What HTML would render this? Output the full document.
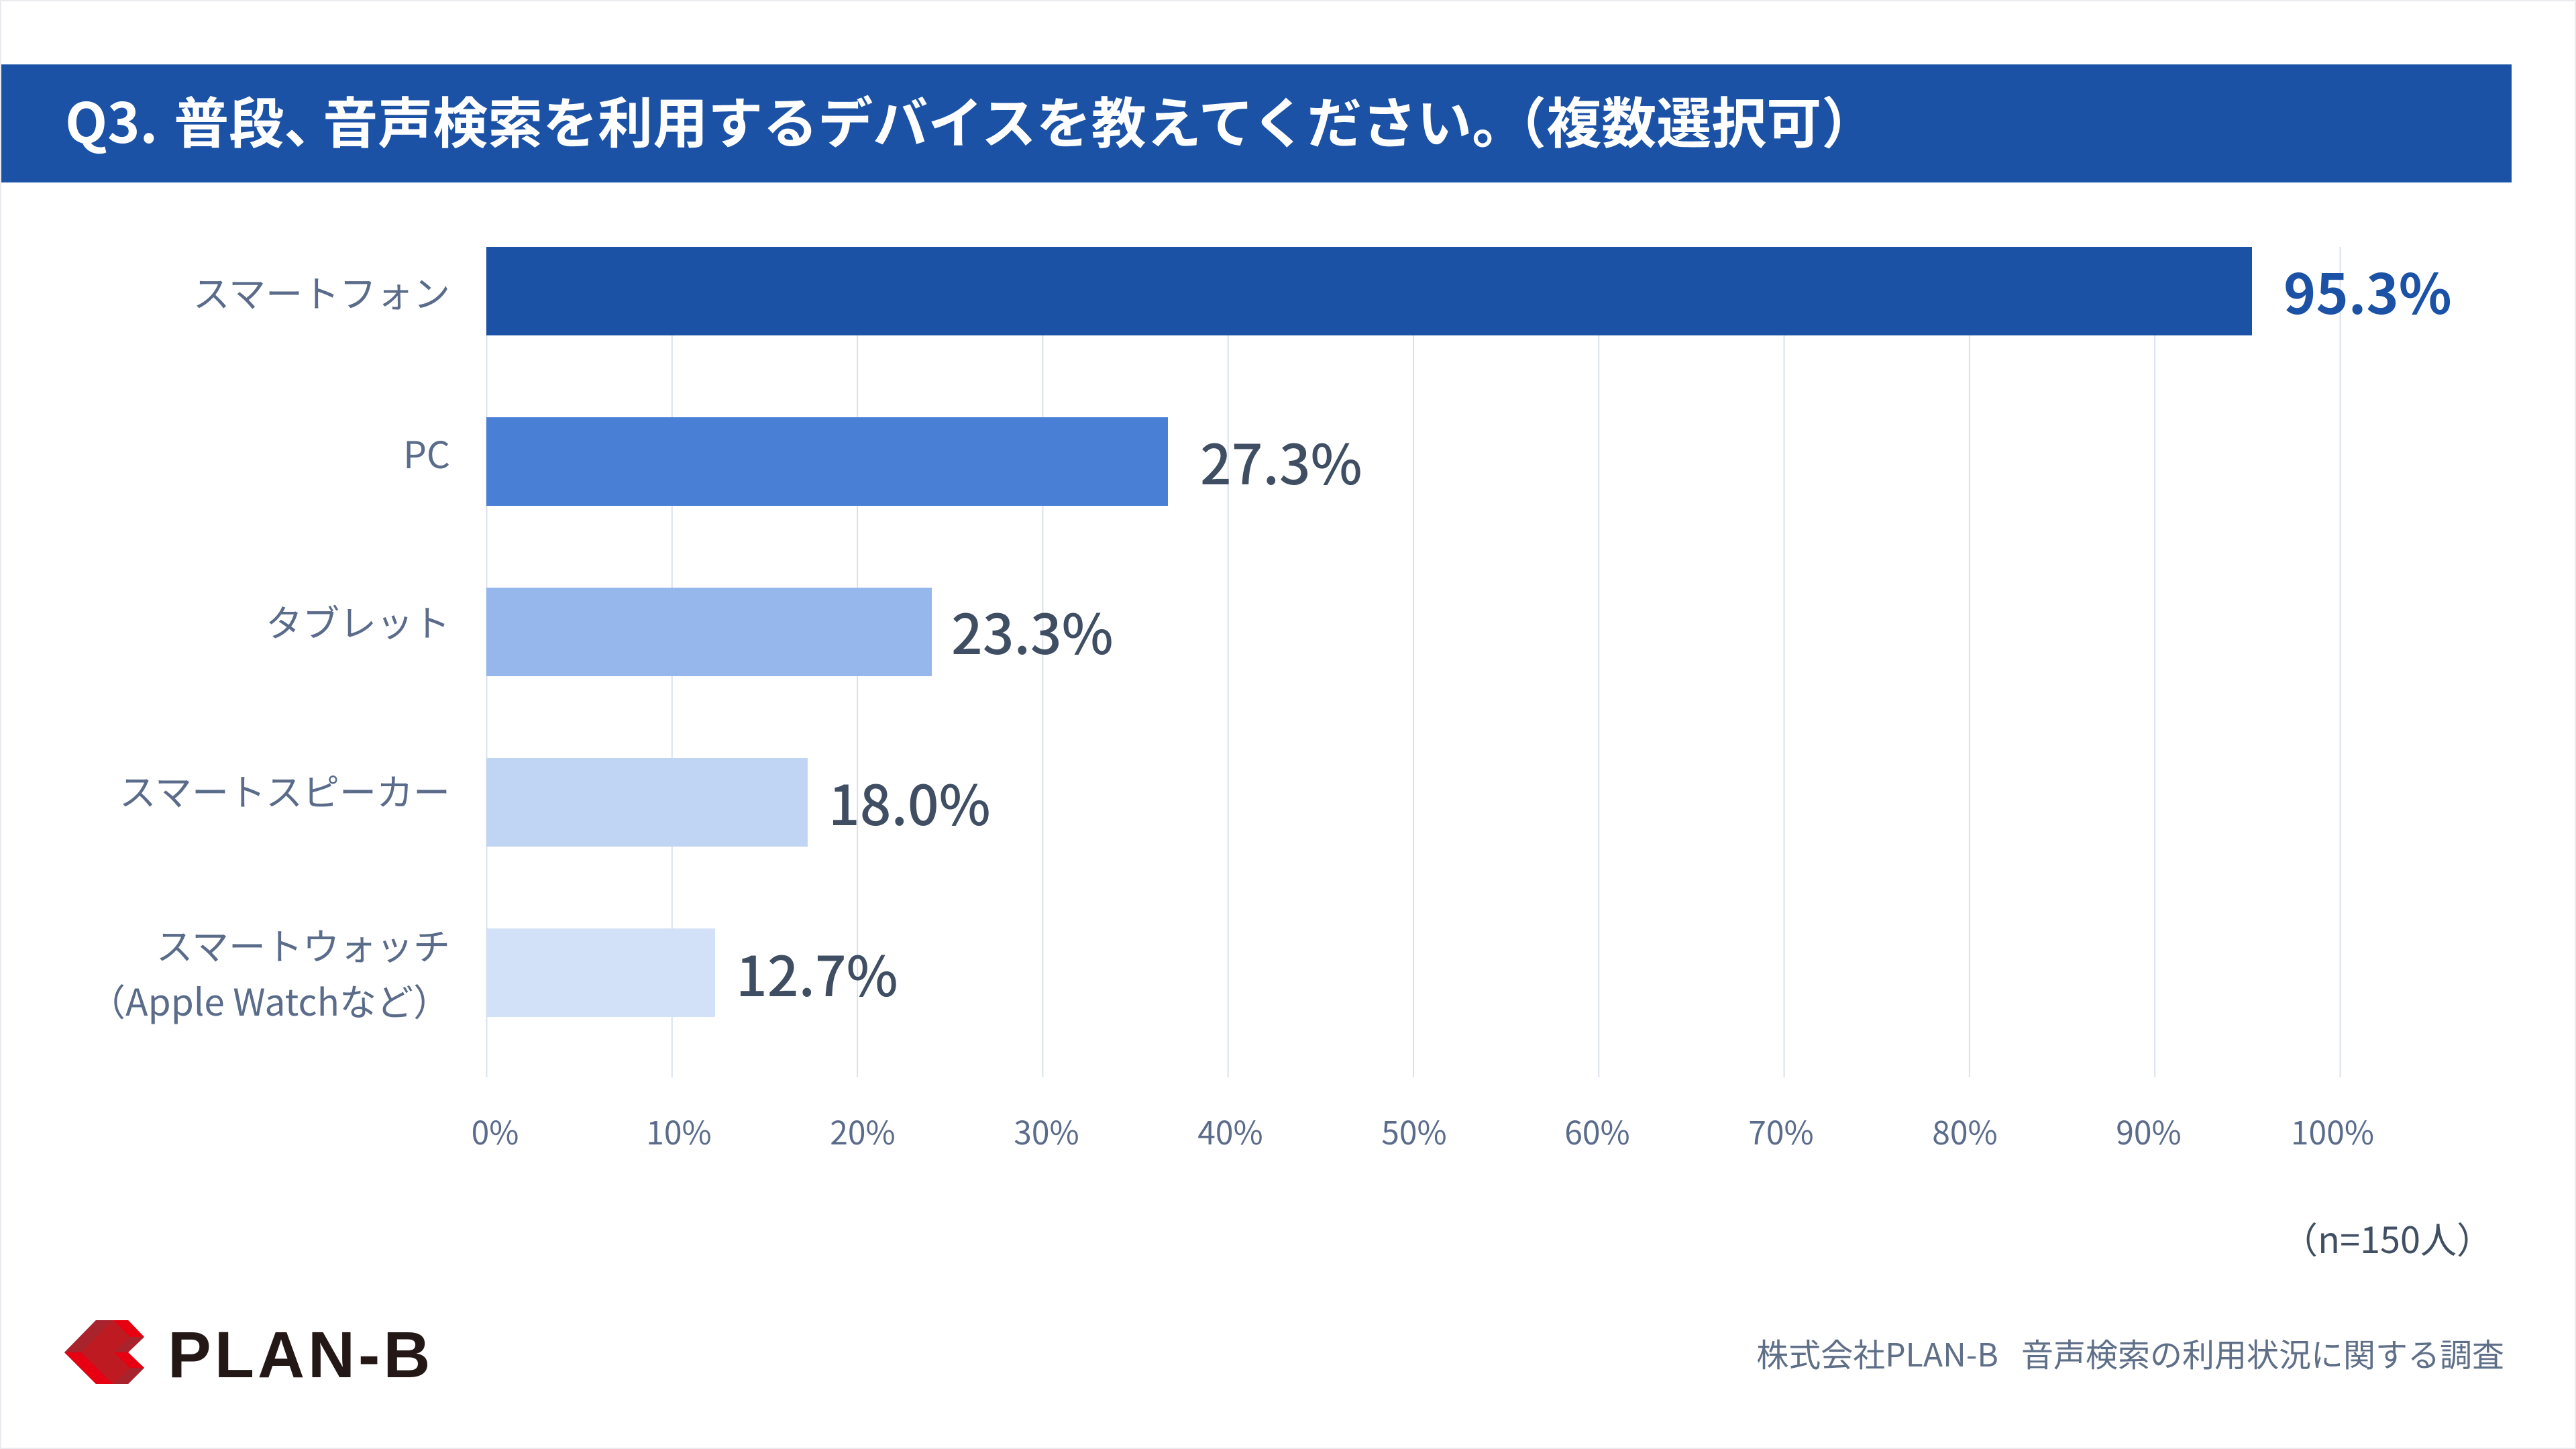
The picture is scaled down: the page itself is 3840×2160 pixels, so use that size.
<!DOCTYPE html>
<html lang="ja">
<head>
<meta charset="utf-8">
<style>
  html,body{margin:0;padding:0;}
  body{width:3840px;height:2160px;position:relative;overflow:hidden;background:#ebebef;
       font-family:"Noto Sans CJK JP","Liberation Sans",sans-serif;}
  #page{position:absolute;left:2px;top:2px;width:3836px;height:2156px;background:#ffffff;}
  .t{position:absolute;white-space:nowrap;line-height:100px;height:100px;}
  .cat{font-size:55px;color:#5a6c8a;text-align:right;right:3169px;}
  .val{font-size:82px;color:#3f4e63;font-weight:500;}
  .tick{font-size:48px;color:#5b6c8b;width:200px;text-align:center;}
</style>
</head>
<body>
<div id="page"></div>

<svg width="3840" height="2160" style="position:absolute;left:0;top:0" xmlns="http://www.w3.org/2000/svg">
  <!-- banner -->
  <rect x="2" y="96" width="3742" height="176" fill="#1b52a6"/>
  <!-- grid -->
  <g stroke="#dbe2eb" stroke-width="2">
    <line x1="725.5" y1="368" x2="725.5" y2="1606"/>
    <line x1="1001.8" y1="368" x2="1001.8" y2="1606"/>
    <line x1="1278.1" y1="368" x2="1278.1" y2="1606"/>
    <line x1="1554.4" y1="368" x2="1554.4" y2="1606"/>
    <line x1="1830.7" y1="368" x2="1830.7" y2="1606"/>
    <line x1="2107" y1="368" x2="2107" y2="1606"/>
    <line x1="2383.3" y1="368" x2="2383.3" y2="1606"/>
    <line x1="2659.6" y1="368" x2="2659.6" y2="1606"/>
    <line x1="2935.9" y1="368" x2="2935.9" y2="1606"/>
    <line x1="3212.2" y1="368" x2="3212.2" y2="1606"/>
    <line x1="3488.5" y1="368" x2="3488.5" y2="1606"/>
  </g>
  <!-- bars -->
  <rect x="725" y="368" width="2632" height="132" fill="#1b52a6"/>
  <rect x="725" y="622" width="1016" height="132" fill="#4a7fd6"/>
  <rect x="725" y="876" width="664" height="132" fill="#95b7ec"/>
  <rect x="725" y="1130" width="479" height="132" fill="#c0d5f4"/>
  <rect x="725" y="1384" width="341" height="132" fill="#d2e1f7"/>
  <!-- logo icon -->
  <polygon points="143,1968 191,1968 215,1993 191,2016 215,2039 191,2063 143,2063 96,2016" fill="#be1a22"/>
  <polygon points="96,2016 143,1968 168,1968 121,2016" fill="#a8232c"/>
  <polygon points="170,1968 191,1968 215,1993 194,1993" fill="#e60012"/>
  <polygon points="194,1993 215,1993 191,2016 170,2016" fill="#a8232c"/>
  <polygon points="96,2016 121,2016 168,2063 143,2063" fill="#e60012"/>
  <polygon points="170,2016 191,2016 215,2039 194,2039" fill="#e60012"/>
  <polygon points="194,2039 215,2039 191,2063 170,2063" fill="#a8232c"/>
</svg>

<!-- title -->
<div class="t" style="left:97px;top:128px;font-size:82px;font-weight:700;color:#ffffff;">Q3.<span style="display:inline-block;width:24px;"></span>普段<span style="letter-spacing:-24px;">、</span>音声検索を利用するデバイスを教えてください<span style="letter-spacing:-12px;">。</span>（複数選択可）</div>

<!-- category labels -->
<div class="t cat" style="top:384px;">スマートフォン</div>
<div class="t cat" style="top:624px;">PC</div>
<div class="t cat" style="top:875px;">タブレット</div>
<div class="t cat" style="top:1127px;">スマートスピーカー</div>
<div class="cat" style="position:absolute;white-space:nowrap;top:1366px;line-height:83px;">スマートウォッチ<br>（Apple Watchなど）</div>

<!-- value labels -->
<div class="t val" style="left:3404px;top:383px;font-weight:700;color:#1b52a6;">95.3%</div>
<div class="t val" style="left:1789px;top:637px;">27.3%</div>
<div class="t val" style="left:1418px;top:890px;">23.3%</div>
<div class="t val" style="left:1235px;top:1145px;">18.0%</div>
<div class="t val" style="left:1097px;top:1400px;">12.7%</div>

<!-- ticks -->
<div class="t tick" style="left:638px;top:1635px;">0%</div>
<div class="t tick" style="left:912px;top:1635px;">10%</div>
<div class="t tick" style="left:1186px;top:1635px;">20%</div>
<div class="t tick" style="left:1460px;top:1635px;">30%</div>
<div class="t tick" style="left:1734px;top:1635px;">40%</div>
<div class="t tick" style="left:2008px;top:1635px;">50%</div>
<div class="t tick" style="left:2281px;top:1635px;">60%</div>
<div class="t tick" style="left:2555px;top:1635px;">70%</div>
<div class="t tick" style="left:2829px;top:1635px;">80%</div>
<div class="t tick" style="left:3103px;top:1635px;">90%</div>
<div class="t tick" style="left:3377px;top:1635px;">100%</div>

<!-- n -->
<div class="t" style="right:124px;top:1795px;font-size:54px;color:#414f63;">（n=150人）</div>

<!-- footer source -->
<div class="t" style="right:107px;top:1966px;font-size:48px;color:#5f6f88;">株式会社PLAN-B<span style="display:inline-block;width:34px;"></span>音声検索の利用状況に関する調査</div>

<!-- logo text -->
<div style="position:absolute;left:250px;top:1971px;font-family:'Liberation Sans',sans-serif;font-weight:700;font-size:97px;line-height:97px;letter-spacing:5px;color:#231815;white-space:nowrap;">PLAN-B</div>

</body>
</html>
